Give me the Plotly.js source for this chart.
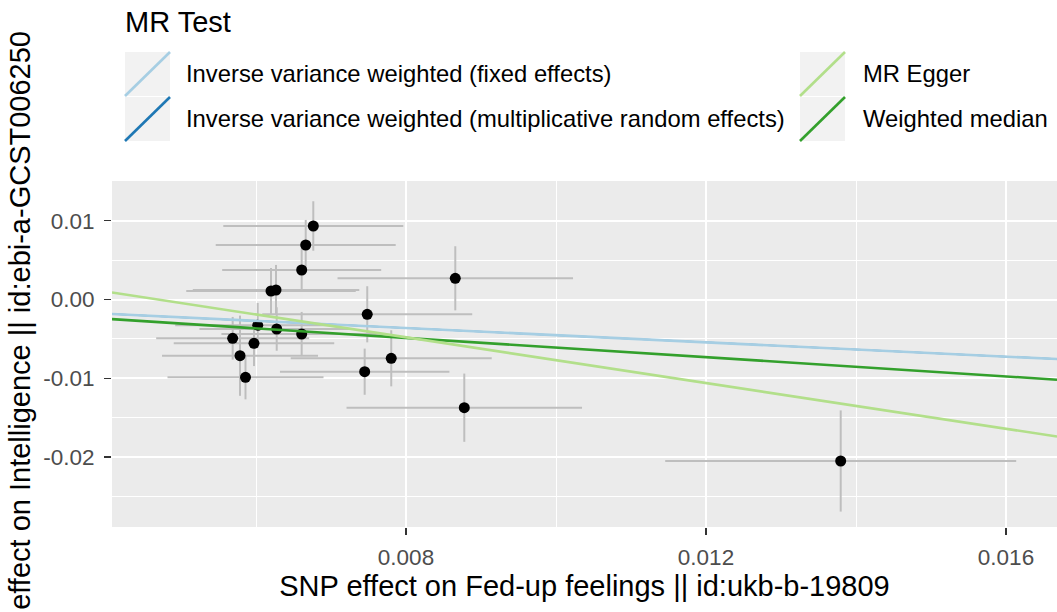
<!DOCTYPE html>
<html>
<head>
<meta charset="utf-8">
<script src="https://cdn.plot.ly/plotly-3.0.1.min.js"></script>
<style>html,body{margin:0;padding:0;background:#fff;}#chart{width:1057px;height:612px;}</style>
</head>
<body>
<div id="chart"></div>
<script>
// ---- data ----
const snpExposure = [0.006764, 0.006663, 0.006609, 0.008657, 0.006200, 0.006267, 0.007483, 0.006023, 0.006276, 0.006609, 0.005689, 0.005973, 0.005787, 0.005860, 0.007449, 0.007803, 0.008777, 0.013796];
const snpOutcome  = [0.009327, 0.006916, 0.003744, 0.002690, 0.001079, 0.001206, -0.001878, -0.003274, -0.003744, -0.004378, -0.004924, -0.005558, -0.007132, -0.009873, -0.009162, -0.007462, -0.013731, -0.020495];
const seExposure  = [0.00120, 0.00120, 0.00106, 0.00157, 0.00113, 0.00111, 0.00140, 0.00110, 0.00103, 0.00107, 0.00102, 0.00107, 0.00104, 0.00104, 0.00113, 0.00134, 0.00157, 0.00234];
const seOutcome   = [0.00314, 0.00318, 0.00276, 0.00407, 0.00293, 0.00318, 0.00356, 0.00284, 0.00276, 0.00280, 0.00271, 0.00289, 0.00509, 0.00280, 0.00293, 0.00356, 0.00433, 0.00642];

const methods    = ["Inverse variance weighted (fixed effects)", "Inverse variance weighted (multiplicative random effects)", "MR Egger", "Weighted median"];
const slopes     = [-0.453, -0.453, -1.4502, -0.61];
const intercepts = [0, 0, 0.006799, 0];
const methodColors = ["#A6CEE3", "#1F78B4", "#B2DF8A", "#33A02C"];

const xTicks = [0.008, 0.012, 0.016];
const xTickLabels = ["0.008", "0.012", "0.016"];
const yTicks = [-0.02, -0.01, 0.00, 0.01];
const yTickLabels = ["-0.02", "-0.01", "0.00", "0.01"];

const legendTitle = "MR Test";
const xTitle = "SNP effect on Fed-up feelings || id:ukb-b-19809";
const yTitle = "SNP effect on Intelligence || id:ebi-a-GCST006250";

// ---- layout geometry ----
const W = 1057, H = 612;
const M = {l: 112, r: 0, t: 181, b: 85};
const xRange = [0.00408, 0.01668];
const yRange = [-0.028871, 0.015038];
const FONT = "Liberation Sans, Arial, sans-serif";
const SMALL = 22.5, LEGTXT = 23.8, BIG = 29;

function px2paperX(px){ return (px - M.l) / (W - M.l - M.r); }
function px2paperY(py){ return (H - M.b - py) / (H - M.t - M.b); }

const traces = [];
traces.push({
  type: "scatter", mode: "markers",
  x: snpExposure, y: snpOutcome,
  error_x: {type: "data", array: seExposure, symmetric: true, color: "#BEBEBE", thickness: 2, width: 0},
  error_y: {type: "data", array: seOutcome, symmetric: true, color: "#BEBEBE", thickness: 2, width: 0},
  marker: {color: "#000000", size: 11},
  showlegend: false, hoverinfo: "x+y"
});
const drawOrder = [1, 0, 3, 2];
drawOrder.forEach(i => {
  traces.push({
    type: "scatter", mode: "lines",
    x: [xRange[0], xRange[1]],
    y: [intercepts[i] + slopes[i]*xRange[0], intercepts[i] + slopes[i]*xRange[1]],
    line: {color: methodColors[i], width: i === 1 ? 1.5 : 2.6},
    name: methods[i], showlegend: false, hoverinfo: "name"
  });
});

// ggplot-style legend
const shapes = [];
const annotations = [];
const keyCols = [125, 800];
const textCols = [184, 861];
const keyRows = [52, 97];
const keyW = 45, keyH = 44;
methods.forEach((m, i) => {
  const col = Math.floor(i / 2), row = i % 2;
  const x0 = keyCols[col], y0 = keyRows[row];
  shapes.push({type: "rect", xref: "paper", yref: "paper",
    x0: px2paperX(x0), x1: px2paperX(x0 + keyW), y0: px2paperY(y0 + keyH), y1: px2paperY(y0),
    fillcolor: "#F2F2F2", line: {width: 0}, layer: "above"});
  shapes.push({type: "line", xref: "paper", yref: "paper",
    x0: px2paperX(x0), y0: px2paperY(y0 + keyH), x1: px2paperX(x0 + keyW), y1: px2paperY(y0),
    line: {color: methodColors[i], width: 2.6}, layer: "above"});
  annotations.push({xref: "paper", yref: "paper", x: px2paperX(textCols[col]), y: px2paperY(y0 + keyH/2),
    xanchor: "left", yanchor: "middle", text: m, showarrow: false,
    font: {family: FONT, size: LEGTXT, color: "#000000"}});
});
annotations.push({xref: "paper", yref: "paper", x: px2paperX(123), y: px2paperY(22),
  xanchor: "left", yanchor: "middle", text: legendTitle, showarrow: false,
  font: {family: FONT, size: BIG, color: "#000000"}});

const layout = {
  width: W, height: H,
  margin: M,
  paper_bgcolor: "#FFFFFF", plot_bgcolor: "#EBEBEB",
  showlegend: false,
  font: {family: FONT},
  xaxis: {
    range: xRange, tickmode: "array", tickvals: xTicks, ticktext: xTickLabels,
    showgrid: true, gridcolor: "#FFFFFF", gridwidth: 2, zeroline: false,
    ticks: "outside", ticklen: 7, tickwidth: 1.5, tickcolor: "#333333",
    ticklabelstandoff: 3,
    tickfont: {family: FONT, size: SMALL, color: "#4D4D4D"},
    minor: {tickmode: "array", tickvals: [0.006, 0.010, 0.014], showgrid: true, gridcolor: "#FFFFFF", gridwidth: 1, ticks: ""},
    showline: false,
    title: {text: xTitle, font: {family: FONT, size: BIG, color: "#000000"}, standoff: 3}
  },
  yaxis: {
    range: yRange, tickmode: "array", tickvals: yTicks, ticktext: yTickLabels,
    showgrid: true, gridcolor: "#FFFFFF", gridwidth: 2, zeroline: false,
    ticks: "outside", ticklen: 7, tickwidth: 1.5, tickcolor: "#333333",
    ticklabelstandoff: 5,
    tickfont: {family: FONT, size: SMALL, color: "#4D4D4D"},
    minor: {tickmode: "array", tickvals: [-0.025, -0.015, -0.005, 0.005, 0.015], showgrid: true, gridcolor: "#FFFFFF", gridwidth: 1, ticks: ""},
    showline: false,
    title: {text: yTitle, font: {family: FONT, size: BIG, color: "#000000"}, standoff: 4}
  },
  shapes: shapes,
  annotations: annotations
};

Plotly.newPlot("chart", traces, layout, {displayModeBar: false, staticPlot: true});
</script>
</body>
</html>
